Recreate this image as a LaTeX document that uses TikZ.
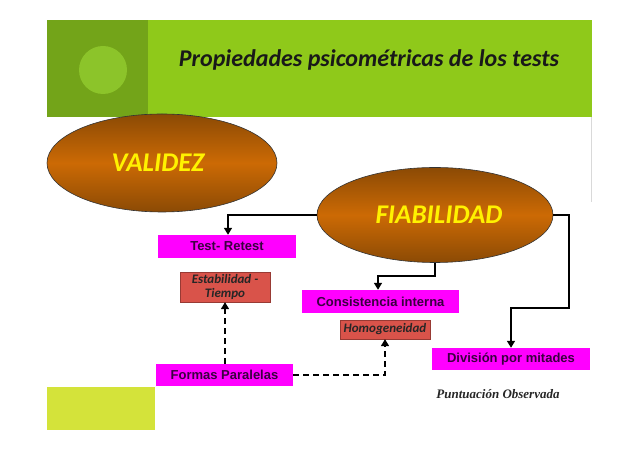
\documentclass[tikz,border=0pt]{standalone}
\usepackage{fontspec}
\setmainfont{Carlito}
\newfontfamily\arialf{Liberation Sans}
\newfontfamily\timesf{Liberation Serif}
\usetikzlibrary{arrows.meta,shapes.geometric}
\definecolor{hdr}{HTML}{8FC91A}
\definecolor{hdrd}{HTML}{73A419}
\definecolor{circ}{HTML}{8CC42A}
\definecolor{lime}{HTML}{D4E33A}
\definecolor{mag}{HTML}{FF00FF}
\definecolor{txtp}{HTML}{3A0040}
\definecolor{redb}{HTML}{D9534A}
\definecolor{brd}{HTML}{8B4A05}
\definecolor{brm}{HTML}{CC6A05}
\tikzset{
  oval/.style={ellipse, draw=black!80, line width=0.6pt, top color=brd, bottom color=brd, middle color=brm, inner sep=0pt},
  ovtxt/.style={text=yellow, font=\bfseries\itshape\fontsize{27}{29}\selectfont},
  magbox/.style={fill=mag, text=txtp, font=\arialf\bfseries\fontsize{13}{15}\selectfont, inner sep=0pt},
  redbox/.style={fill=redb, draw=redb!70!black, line width=0.3pt, text=black!85, font=\bfseries\itshape\fontsize{13}{13.5}\selectfont, inner sep=0pt, align=center},
  arr/.style={draw=black, line width=1.4pt, -{Triangle[length=7pt,width=8pt]}},
  darr/.style={draw=black, line width=1.4pt, dash pattern=on 6pt off 4pt, -{Triangle[length=7pt,width=8pt]}}
}
\begin{document}
\begin{tikzpicture}[x=1pt,y=1pt]
\useasboundingbox (0,0) rectangle (640,452);
\fill[white] (0,0) rectangle (640,452);
% header
\fill[hdr] (47,335) rectangle (592,432);
\fill[hdrd] (47,335) rectangle (148,432);
\fill[circ] (103,382) circle (24);
\draw[black!15, line width=0.8pt] (591,335) -- (591,250);
\node[font=\bfseries\itshape\fontsize{24}{26}\selectfont, text=black!90] (title) at (369,392) {Propiedades psicométricas de los tests};
\fill[lime] (47,22) rectangle (155,65);
% ellipses
\node[oval, minimum width=230, minimum height=98] (val) at (162,289) {};
\node[ovtxt] (valt) at (158,289) {VALIDEZ};
\node[oval, minimum width=236, minimum height=95] (fia) at (435,237) {};
\node[ovtxt] (fiat) at (439,237) {FIABILIDAD};
% boxes
\node[magbox, minimum width=138, minimum height=23] (tr) at (227,205.5) {Test- Retest};
\node[redbox, minimum width=90, minimum height=30] (est) at (225,165) {Estabilidad -\\Tiempo};
\node[magbox, minimum width=157, minimum height=23] (ci) at (380.5,150.5) {Consistencia interna};
\node[redbox, minimum width=90, minimum height=19] (hom) at (385,122.5) {Homogeneidad};
\node[magbox, minimum width=158, minimum height=22] (dpm) at (511,93) {División por mitades};
\node[magbox, minimum width=137, minimum height=22] (fp) at (224.5,77) {Formas Paralelas};
\node[font=\timesf\bfseries\itshape\fontsize{13}{15}\selectfont, text=black!85] (po) at (498,58) {Puntuación Observada};
% connectors
\draw[arr] (fia.west) -| (tr.north -| 228,0);
\coordinate (c1) at (435,176);
\draw[arr] (fia.south) -- (c1) -| (ci.north -| 378,0);
\coordinate (c2) at (569,237);
\coordinate (c3) at (569,144);
\draw[arr] (fia.east) -- (c2) -- (c3) -| (dpm.north);
\draw[darr] (fp.north -| est.south) -- (est.south);
\draw[darr] (fp.east) -| (hom.south);
\end{tikzpicture}
\end{document}
